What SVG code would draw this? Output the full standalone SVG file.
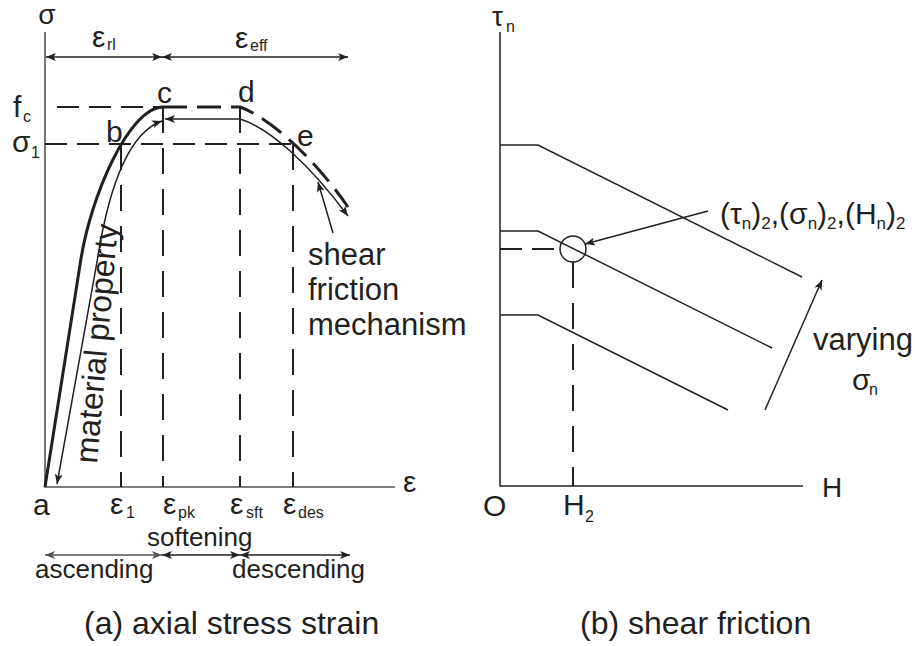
<svg xmlns="http://www.w3.org/2000/svg" width="915" height="646" viewBox="0 0 915 646">
<style>
text{font-family:"Liberation Sans",Arial,sans-serif;fill:#231f20}
.l{font-size:30px}
.m{font-size:26px}
.s{font-size:16px}
.cap{font-size:31px}
.ax{stroke:#555;stroke-width:1.6;fill:none}
.thin{stroke:#231f20;stroke-width:1.5;fill:none}
.thick{stroke:#231f20;stroke-width:3;fill:none}
.dash{stroke:#231f20;stroke-width:2;fill:none;stroke-dasharray:22 10}
.vdash{stroke:#231f20;stroke-width:2;fill:none;stroke-dasharray:26 15}
</style>
<defs>
<marker id="arr" viewBox="0 0 10 8" refX="10" refY="4" markerWidth="10" markerHeight="8" markerUnits="userSpaceOnUse" orient="auto-start-reverse">
<path d="M0,0 L10,4 L0,8 L2.5,4 z" fill="#231f20"/>
</marker>
<marker id="arrg" viewBox="0 0 10 8" refX="10" refY="4" markerWidth="10" markerHeight="8" markerUnits="userSpaceOnUse" orient="auto-start-reverse">
<path d="M0,0 L10,4 L0,8 L2.5,4 z" fill="#555"/>
</marker>
</defs>
<rect width="915" height="646" fill="#fff"/>

<g id="axes-a">
<path class="ax" d="M45,32 V487 H395"/>
<text class="l" x="47" y="24" text-anchor="middle" style="font-size:28px">σ</text>
<text class="l" x="403" y="492">ε</text>
<text class="l" x="33" y="515">a</text>
</g>

<g id="ranges-a">
<path class="thin" d="M46,57 H162" stroke-width="2" marker-start="url(#arr)" marker-end="url(#arr)"/>
<path class="thin" d="M162,57 H348" stroke-width="2" marker-start="url(#arr)" marker-end="url(#arr)"/>
<text class="l" x="92" y="47">ε</text><text class="s" x="107" y="50">rl</text>
<text class="l" x="235" y="48">ε</text><text class="s" x="250" y="51">eff</text>
</g>

<g id="guides-a">
<path class="dash" d="M57,107 H163"/>
<path class="dash" d="M45,144 H293"/>
<path class="vdash" d="M121,144 V487"/>
<path class="vdash" d="M163,107 V487"/>
<path class="vdash" d="M240,107 V487"/>
<path class="vdash" d="M293,144 V487"/>
</g>

<g id="curves-a">
<path class="thick" d="M45,487 L80,265 C90,195 130,107 163,107"/>
<path class="thick" d="M163,107 H240 C268,117 312,155 348,207" stroke-dasharray="24 10"/>
<path class="thin" d="M57,484 L97,262 C105,210 122,135 162,121" marker-start="url(#arr)" marker-end="url(#arr)"/>
<path class="thin" d="M240,119 H165" marker-end="url(#arr)"/>
<path class="thin" d="M240,119 C270,128 310,165 348,216" marker-end="url(#arr)"/>
<path class="thin" d="M333,233 L318,182" marker-end="url(#arr)"/>
</g>

<g id="labels-a">
<text class="l" x="13" y="117">f</text><text class="s" x="23" y="122">c</text>
<text class="l" x="12" y="152">σ</text><text class="s" x="31" y="158">1</text>
<text class="l" x="157" y="103">c</text>
<text class="l" x="238" y="102">d</text>
<text class="l" x="106" y="142">b</text>
<text class="l" x="297" y="146">e</text>
<text class="cap" x="308" y="265">shear</text>
<text class="cap" x="308" y="300">friction</text>
<text class="cap" x="308" y="335">mechanism</text>
<text class="cap" transform="translate(97,464) rotate(-85)" style="font-size:32px">material property</text>
<text class="l" x="110" y="514">ε</text><text class="s" x="126" y="518">1</text>
<text class="l" x="163" y="514">ε</text><text class="s" x="178" y="518">pk</text>
<text class="l" x="230" y="514">ε</text><text class="s" x="246" y="518">sft</text>
<text class="l" x="283" y="514">ε</text><text class="s" x="298" y="518">des</text>
</g>

<g id="phases-a">
<path d="M45,555 H162" stroke="#555" stroke-width="1.6" fill="none" marker-start="url(#arrg)" marker-end="url(#arrg)"/>
<path class="thin" d="M162,555 H240" stroke-width="2" marker-start="url(#arr)" marker-end="url(#arr)"/>
<path class="thin" d="M240,555 H350" stroke-width="2" marker-start="url(#arr)" marker-end="url(#arr)"/>
<text class="m" x="147" y="546">softening</text>
<text class="m" x="35" y="578">ascending</text>
<text class="m" x="232" y="578">descending</text>
</g>

<g id="axes-b">
<path class="thin" d="M500,32 V486 H803"/>
<text class="l" x="492" y="26" style="font-size:28px">τ</text><text class="s" x="506" y="32">n</text>
<text class="l" x="822" y="497" style="font-size:28px">H</text>
<text class="l" x="483" y="516">O</text>
<text class="l" x="563" y="515">H</text><text class="s" x="585" y="522">2</text>
</g>

<g id="curves-b">
<path class="thin" d="M500,145 H538 L802,277"/>
<path class="thin" d="M500,231 H538 L772,348"/>
<path class="thin" d="M500,315 H538 L728,410"/>
</g>

<g id="point-b">
<path class="dash" d="M500,249 H562" stroke-dasharray="24 12"/>
<path class="vdash" d="M573,262 V486" stroke-dasharray="26 14"/>
<circle cx="573" cy="249" r="13" class="thin" stroke-width="1.3"/>
<path class="thin" d="M708,211 L585,244" marker-end="url(#arr)"/>
<text class="l" x="720" y="224">(τ<tspan dy="5" style="font-size:17px">n</tspan><tspan dy="-5">)</tspan><tspan dy="5" style="font-size:17px">2</tspan><tspan dy="-5">,(σ</tspan><tspan dy="5" style="font-size:17px">n</tspan><tspan dy="-5">)</tspan><tspan dy="5" style="font-size:17px">2</tspan><tspan dy="-5">,(H</tspan><tspan dy="5" style="font-size:17px">n</tspan><tspan dy="-5">)</tspan><tspan dy="5" style="font-size:17px">2</tspan></text>
</g>

<g id="varying-b">
<path class="thin" d="M765,410 L822,280" marker-end="url(#arr)"/>
<text class="cap" x="813" y="350">varying</text>
<text class="l" x="852" y="390">σ</text><text class="s" x="869" y="395">n</text>
</g>

<g id="captions">
<text class="cap" x="84" y="634" style="font-size:32px">(a) axial stress strain</text>
<text class="cap" x="580" y="634" style="font-size:32px">(b) shear friction</text>
</g>
</svg>
